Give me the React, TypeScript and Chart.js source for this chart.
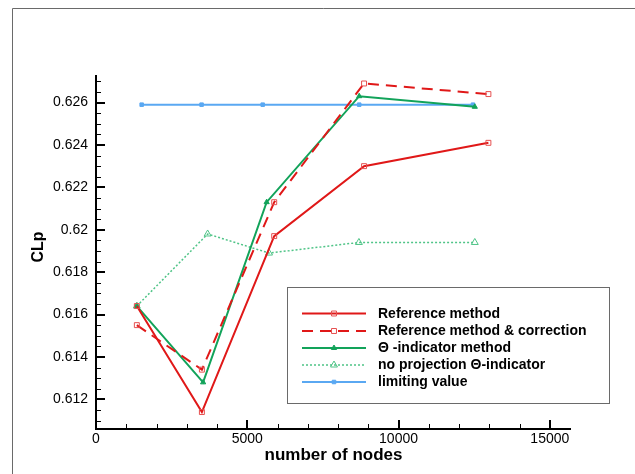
import React, { useEffect, useRef } from 'react';
import { Chart, registerables } from 'chart.js';
Chart.register(...registerables);

const FONT = '"Liberation Sans", Arial, Helvetica, sans-serif';

// ---- data ----
const refNodes = [1350, 3500, 5890, 8860, 12970];
const refCL = [0.6164, 0.6114, 0.6197, 0.623, 0.6241];
const corrCL = [0.6155, 0.6134, 0.6213, 0.6269, 0.6264];
const thetaNodes = [1350, 3540, 5640, 8700, 12520];
const thetaCL = [0.6164, 0.6128, 0.6213, 0.6263, 0.6258];
const noProjNodes = [1350, 3690, 5720, 8690, 12520];
const noProjCL = [0.6164, 0.6198, 0.6189, 0.6194, 0.6194];
const limitNodes = [1510, 3490, 5510, 8700, 12460];
const limitCL = [0.6259, 0.6259, 0.6259, 0.6259, 0.6259];

const seriesLabels = [
  'Reference method',
  'Reference method & correction',
  'Θ -indicator method',
  'no projection Θ-indicator',
  'limiting value',
];
const xTickValues = [0, 5000, 10000, 15000];
const yTickValues = [0.612, 0.614, 0.616, 0.618, 0.62, 0.622, 0.624, 0.626];
const xTitle = 'number of nodes';
const yTitle = 'CLp';

const pts = (xs: number[], ys: number[]) => xs.map((x, i) => ({ x, y: ys[i] }));

function marker(ctx: CanvasRenderingContext2D, style: string, x: number, y: number, r: number, fill: string, stroke: string, bw: number) {
  ctx.save();
  ctx.beginPath();
  if (style === 'rect') {
    const s = Math.SQRT1_2 * r;
    ctx.rect(x - s, y - s, 2 * s, 2 * s);
  } else {
    let rad = 0;
    const T = (2 * Math.PI) / 3;
    ctx.moveTo(x + Math.sin(rad) * r, y - Math.cos(rad) * r);
    rad += T;
    ctx.lineTo(x + Math.sin(rad) * r, y - Math.cos(rad) * r);
    rad += T;
    ctx.lineTo(x + Math.sin(rad) * r, y - Math.cos(rad) * r);
    ctx.closePath();
  }
  ctx.fillStyle = fill;
  ctx.fill();
  ctx.lineWidth = bw;
  ctx.strokeStyle = stroke;
  ctx.setLineDash([]);
  ctx.stroke();
  ctx.restore();
}

const framePlugin = {
  id: 'frame',
  beforeDraw(chart: any) {
    const ctx = chart.ctx;
    ctx.save();
    ctx.strokeStyle = '#6a6a6a';
    ctx.lineWidth = 1;
    ctx.beginPath();
    ctx.moveTo(12.5, 474);
    ctx.lineTo(12.5, 8.5);
    ctx.lineTo(635, 8.5);
    ctx.stroke();
    ctx.restore();
  },
};

const axesPlugin = {
  id: 'axesCustom',
  afterDatasetsDraw(chart: any) {
    const { ctx, chartArea } = chart;
    const { left, right, top, bottom } = chartArea;
    const xs = chart.scales.x;
    const ys = chart.scales.y;
    ctx.save();
    ctx.strokeStyle = '#000';
    // x ticks (inward)
    for (let v = 0; v <= xs.max; v += 1000) {
      const px = Math.round(xs.getPixelForValue(v));
      const major = v % 5000 === 0;
      ctx.lineWidth = major ? 2 : 1;
      ctx.beginPath();
      ctx.moveTo(major ? px : px + 0.5, bottom);
      ctx.lineTo(major ? px : px + 0.5, bottom - (major ? 9 : 5));
      ctx.stroke();
    }
    // y ticks (inward)
    const k0 = Math.ceil(ys.min * 2000 - 1e-6);
    const k1 = Math.floor(ys.max * 2000 + 1e-6);
    for (let k = k0; k <= k1; k++) {
      const py = Math.round(ys.getPixelForValue(k / 2000));
      const major = k % 4 === 0;
      ctx.lineWidth = major ? 2 : 1;
      ctx.beginPath();
      ctx.moveTo(left, major ? py : py + 0.5);
      ctx.lineTo(left + (major ? 9 : 5), major ? py : py + 0.5);
      ctx.stroke();
    }
    // axis lines
    ctx.lineWidth = 2;
    ctx.beginPath();
    ctx.moveTo(left, top);
    ctx.lineTo(left, bottom);
    ctx.lineTo(right, bottom);
    ctx.stroke();
    // titles
    ctx.fillStyle = '#000';
    ctx.font = `bold 17px ${FONT}`;
    ctx.textAlign = 'center';
    ctx.textBaseline = 'alphabetic';
    ctx.fillText(xTitle, (left + right) / 2, 460);
    ctx.save();
    ctx.translate(43, 247);
    ctx.rotate(-Math.PI / 2);
    ctx.font = `bold 16px ${FONT}`;
    ctx.fillText(yTitle, 0, 0);
    ctx.restore();
    ctx.restore();
  },
};

const legendPlugin = {
  id: 'legendCustom',
  afterDraw(chart: any) {
    const ctx = chart.ctx;
    ctx.save();
    const bx = 287.5, by = 287.5, bw = 322, bh = 116;
    ctx.fillStyle = '#fff';
    ctx.fillRect(bx, by, bw, bh);
    ctx.strokeStyle = '#6a6a6a';
    ctx.lineWidth = 1;
    ctx.strokeRect(bx, by, bw, bh);
    const rowY = [313.5, 331, 348, 365, 382];
    chart.data.datasets.forEach((ds: any, i: number) => {
      const y = rowY[i];
      ctx.save();
      ctx.strokeStyle = ds.borderColor;
      ctx.lineWidth = ds.borderWidth;
      ctx.setLineDash(ds.borderDash || []);
      ctx.beginPath();
      ctx.moveTo(302, y);
      ctx.lineTo(366, y);
      ctx.stroke();
      ctx.restore();
      marker(ctx, ds.pointStyle, 334, y, ds.pointRadius, ds.pointBackgroundColor, ds.pointBorderColor, ds.pointBorderWidth);
      ctx.fillStyle = '#000';
      ctx.font = `bold 14px ${FONT}`;
      ctx.textAlign = 'left';
      ctx.textBaseline = 'middle';
      ctx.fillText(ds.label, 378, y + 0.5);
    });
    ctx.restore();
  },
};

export default function App() {
  const ref = useRef<HTMLCanvasElement | null>(null);
  useEffect(() => {
    if (!ref.current) return;
    const red = '#e01818';
    const redPt = '#e65050';
    const green = '#12a35a';
    const lightGreen = '#4fc487';
    const blue = '#5aa8f2';
    const chart = new Chart(ref.current, {
      type: 'line',
      data: {
        datasets: [
          {
            label: seriesLabels[0],
            data: pts(refNodes, refCL),
            borderColor: red,
            borderWidth: 2,
            pointStyle: 'rect',
            pointRadius: 3.5,
            pointBorderColor: redPt,
            pointBackgroundColor: 'rgba(255,255,255,0)',
            pointBorderWidth: 1,
          },
          {
            label: seriesLabels[1],
            data: pts(refNodes, corrCL),
            borderColor: red,
            borderWidth: 2,
            borderDash: [11, 7],
            pointStyle: 'rect',
            pointRadius: 3.5,
            pointBorderColor: redPt,
            pointBackgroundColor: 'rgba(255,255,255,0)',
            pointBorderWidth: 1,
          },
          {
            label: seriesLabels[2],
            data: pts(thetaNodes, thetaCL),
            borderColor: green,
            borderWidth: 2,
            pointStyle: 'triangle',
            pointRadius: 3,
            pointBorderColor: green,
            pointBackgroundColor: green,
            pointBorderWidth: 1,
          },
          {
            label: seriesLabels[3],
            data: pts(noProjNodes, noProjCL),
            borderColor: lightGreen,
            borderWidth: 1.5,
            borderDash: [2, 2],
            pointStyle: 'triangle',
            pointRadius: 4,
            pointBorderColor: lightGreen,
            pointBackgroundColor: 'rgba(255,255,255,0)',
            pointBorderWidth: 1,
          },
          {
            label: seriesLabels[4],
            data: pts(limitNodes, limitCL),
            borderColor: blue,
            borderWidth: 2,
            pointStyle: 'rect',
            pointRadius: 2.5,
            pointBorderColor: blue,
            pointBackgroundColor: blue,
            pointBorderWidth: 1,
          },
        ] as any,
      },
      options: {
        animation: false,
        responsive: false,
        devicePixelRatio: 1,
        layout: { padding: { left: 0, top: 75, right: 64, bottom: 0 } },
        plugins: { legend: { display: false }, tooltip: { enabled: false } },
        elements: { line: { tension: 0 } },
        scales: {
          x: {
            type: 'linear',
            min: 0,
            max: 15700,
            grid: { display: false, drawTicks: false },
            border: { display: false },
            afterBuildTicks: (s: any) => {
              s.ticks = xTickValues.map((v) => ({ value: v }));
            },
            afterFit: (s: any) => {
              s.height = 45;
            },
            ticks: {
              padding: 2,
              color: '#000',
              font: { family: FONT, size: 14 },
              maxRotation: 0,
              autoSkip: false,
              callback: (v: any) => String(v),
            },
          },
          y: {
            type: 'linear',
            min: 0.6106,
            max: 0.6273,
            grid: { display: false, drawTicks: false },
            border: { display: false },
            afterBuildTicks: (s: any) => {
              s.ticks = yTickValues.map((v) => ({ value: v }));
            },
            afterFit: (s: any) => {
              s.width = 96;
            },
            ticks: {
              padding: 8,
              color: '#000',
              font: { family: FONT, size: 14 },
              autoSkip: false,
              callback: (v: any) => String(Number(Number(v).toFixed(3))),
            },
          },
        },
      } as any,
      plugins: [framePlugin, axesPlugin, legendPlugin],
    });
    return () => chart.destroy();
  }, []);
  return (
    <div style={{ position: 'fixed', left: 0, top: 0, width: 635, height: 474, background: '#fff' }}>
      <canvas ref={ref} width={635} height={474} style={{ display: 'block', width: 635, height: 474 }} />
    </div>
  );
}
